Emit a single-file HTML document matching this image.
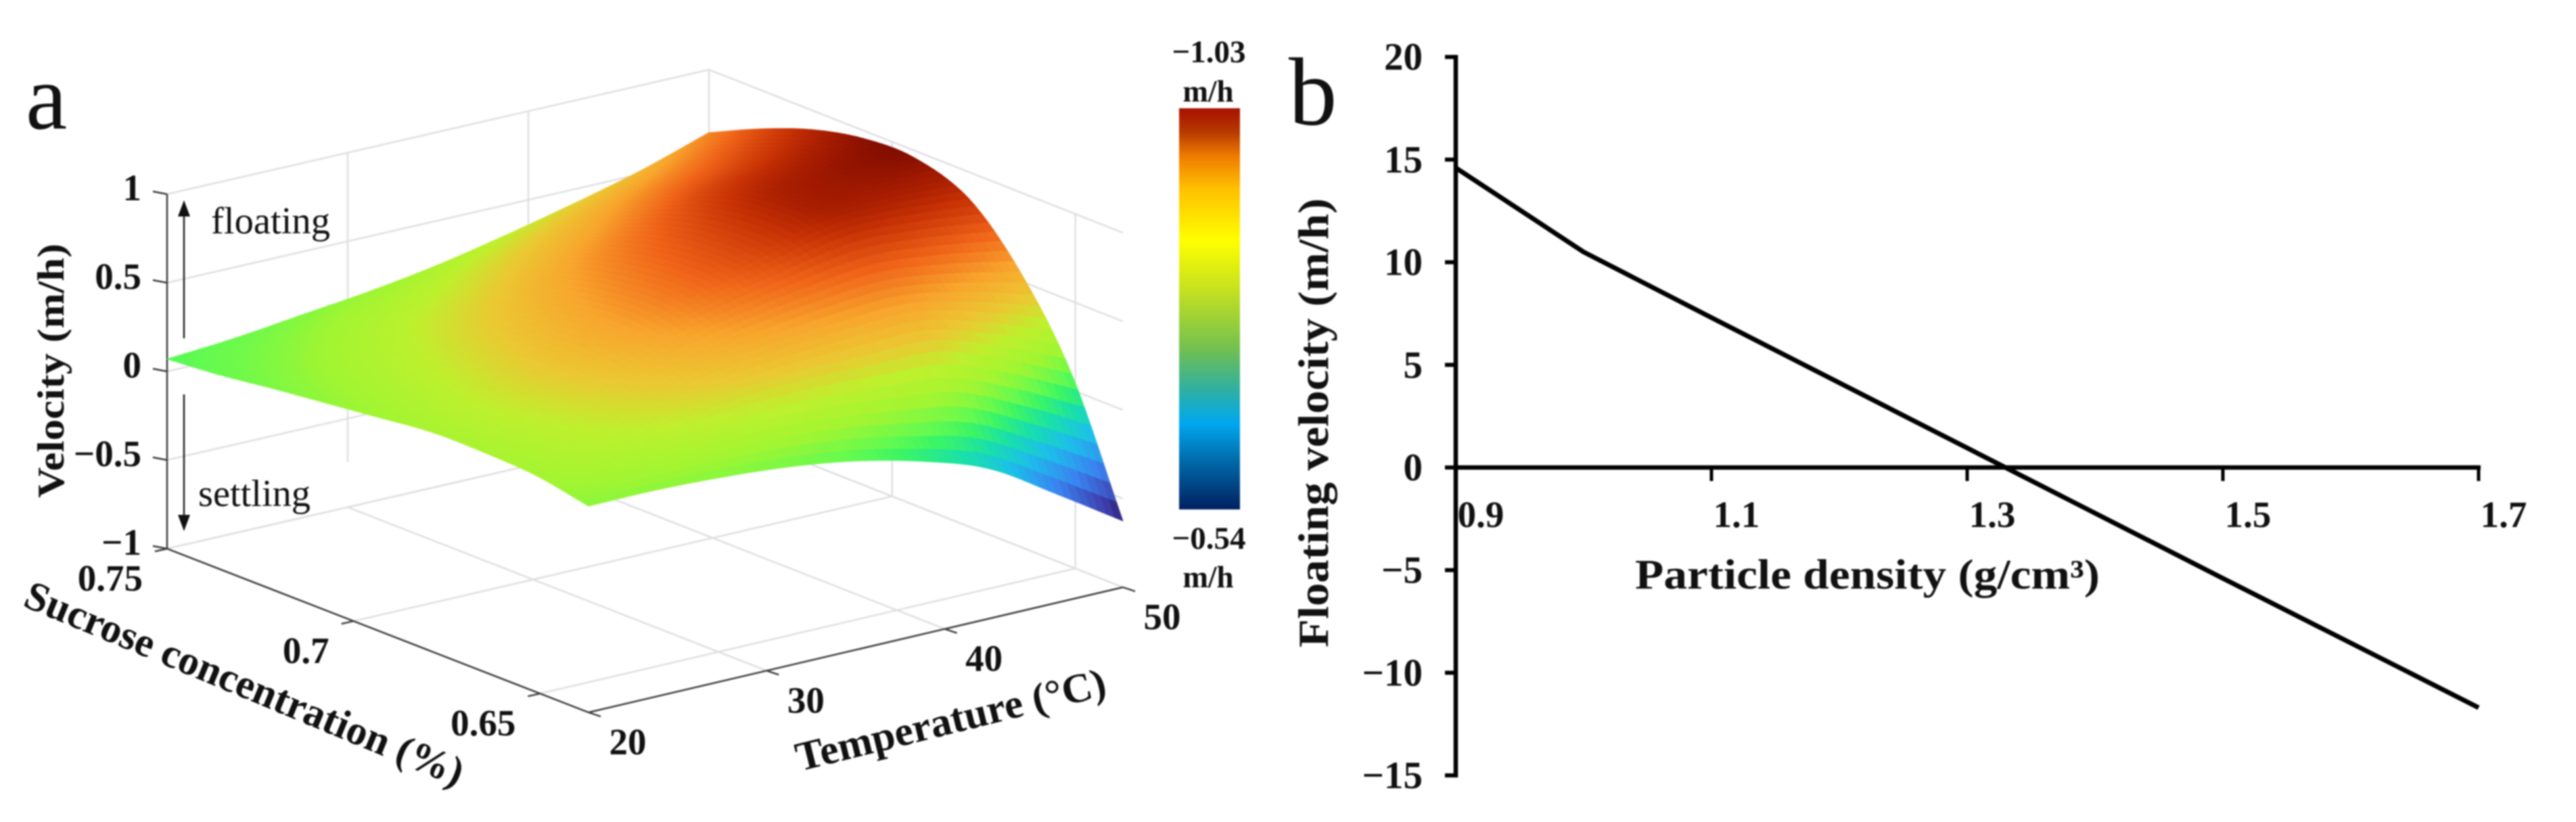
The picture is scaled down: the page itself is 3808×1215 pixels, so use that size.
<!DOCTYPE html>
<html lang="en">
<head>
<meta charset="utf-8">
<title>Velocity surface and floating velocity chart</title>
<style>
  html, body { margin: 0; padding: 0; background: #fff; }
  svg { display: block; filter: blur(1px); }
  text { font-family: "Liberation Serif", serif; fill: #111; }
  .b { font-weight: 700; }
</style>
</head>
<body>
<svg id="fig" xmlns="http://www.w3.org/2000/svg" width="3808" height="1215" viewBox="0 0 3808 1215">
  <defs>
    <linearGradient id="cbar" x1="0" y1="0" x2="0" y2="1">
      <stop offset="0" stop-color="#a81000"/>
      <stop offset="0.06" stop-color="#b83a00"/>
      <stop offset="0.118" stop-color="#ee7a00"/>
      <stop offset="0.2" stop-color="#ffc000"/>
      <stop offset="0.33" stop-color="#ffff00"/>
      <stop offset="0.456" stop-color="#c4e020"/>
      <stop offset="0.6" stop-color="#72c050"/>
      <stop offset="0.7" stop-color="#30b0a0"/>
      <stop offset="0.785" stop-color="#00a8f0"/>
      <stop offset="0.87" stop-color="#0070b0"/>
      <stop offset="1" stop-color="#002060"/>
    </linearGradient>
  </defs>
  <rect width="3808" height="1215" fill="#fff"/>

  <g id="grid3d"></g>
  <g id="axes3d"></g>
  <g id="surface"></g>
  <g id="labels3d"></g>

  <text x="38" y="190" font-size="138">a</text>
  <text x="1905" y="184" font-size="143">b</text>

  <text class="b" transform="translate(94 736) rotate(-90)" font-size="56" textLength="376" lengthAdjust="spacingAndGlyphs">Velocity (m/h)</text>
  <text class="b" transform="translate(32 895) rotate(22.6)" font-size="61" textLength="697" lengthAdjust="spacingAndGlyphs">Sucrose concentration (%)</text>
  <text class="b" transform="translate(1182 1140) rotate(-13.9)" font-size="61" textLength="470" lengthAdjust="spacingAndGlyphs">Temperature (°C)</text>

  <text x="312" y="345" font-size="56" textLength="176" lengthAdjust="spacingAndGlyphs">floating</text>
  <text x="293" y="748" font-size="56" textLength="166" lengthAdjust="spacingAndGlyphs">settling</text>
  <g>
    <line x1="272" y1="500" x2="272" y2="315" stroke="#222" stroke-width="2.5"/>
    <polygon points="272,296 263,320 281,320" fill="#111"/>
  </g>
  <g>
    <line x1="272" y1="583" x2="272" y2="765" stroke="#222" stroke-width="2.5"/>
    <polygon points="272,785 263,761 281,761" fill="#111"/>
  </g>

  <rect x="1743" y="160" width="90" height="593" fill="url(#cbar)"/>
  <text class="b" x="1787" y="92" font-size="47" text-anchor="middle">−1.03</text>
  <text class="b" x="1786" y="150" font-size="45" text-anchor="middle">m/h</text>
  <text class="b" x="1787" y="811" font-size="47" text-anchor="middle">−0.54</text>
  <text class="b" x="1786" y="868" font-size="45" text-anchor="middle">m/h</text>

  <g id="chartB"></g>
  <text class="b" transform="translate(1963 957) rotate(-90)" font-size="64" textLength="664" lengthAdjust="spacingAndGlyphs">Floating velocity (m/h)</text>
  <text class="b" x="2417" y="870" font-size="62" textLength="687" lengthAdjust="spacingAndGlyphs">Particle density (g/cm³)</text>
</svg>

<script>
// ---- Panel a data ----
const temperatureTicks = [20, 30, 40, 50];
const sucroseTicks = [0.75, 0.7, 0.65];
const velocityTicks = [1, 0.5, 0, -0.5, -1];
const surfaceTemperatures = [20, 23.75, 27.5, 31.25, 35, 38.75, 42.5, 46.25, 50];
const surfaceSucrose = [0.75, 0.736, 0.722, 0.708, 0.694, 0.679, 0.665, 0.651, 0.637];
const surfaceVelocityS0 = [0.07, 0.10, 0.145, 0.19, 0.25, 0.33, 0.42, 0.52, 0.645];
const surfaceVelocityS1 = [0.095, 0.158, 0.23, 0.296, 0.383, 0.477, 0.578, 0.672, 0.78];
const surfaceVelocityS2 = [0.134, 0.222, 0.315, 0.402, 0.504, 0.608, 0.717, 0.80, 0.89];
const surfaceVelocityS3 = [0.168, 0.28, 0.394, 0.501, 0.617, 0.727, 0.839, 0.90, 0.955];
const surfaceVelocityS4 = [0.202, 0.33, 0.454, 0.571, 0.688, 0.796, 0.903, 0.94, 0.96];
const surfaceVelocityS5 = [0.237, 0.366, 0.486, 0.60, 0.704, 0.794, 0.882, 0.88, 0.85];
const surfaceVelocityS6 = [0.237, 0.345, 0.442, 0.529, 0.60, 0.652, 0.68, 0.63, 0.55];
const surfaceVelocityS7 = [0.221, 0.289, 0.344, 0.388, 0.408, 0.402, 0.39, 0.26, 0.09];
const surfaceVelocityS8 = [0.164, 0.165, 0.15, 0.12, 0.065, -0.025, -0.155, -0.385, -0.626];

// ---- Panel b data ----
const particleDensity = [0.9, 1.0, 1.1, 1.3, 1.5, 1.7];
const floatingVelocity = [14.6, 10.5, 7.3, 0.95, -5.4, -11.7];
const densityTickLabels = ["0.9", "1.1", "1.3", "1.5", "1.7"];
const densityTicks = [0.9, 1.1, 1.3, 1.5, 1.7];
const velocityAxisTicks = [20, 15, 10, 5, 0, -5, -10, -15];

const NS = "http://www.w3.org/2000/svg";
function mk(parent, tag, attrs, txt) {
  const el = document.createElementNS(NS, tag);
  for (const k in attrs) el.setAttribute(k, attrs[k]);
  if (txt !== undefined) el.textContent = txt;
  parent.appendChild(el);
  return el;
}
function fmt(v) { return (v < 0 ? "−" + (-v) : String(v)); }

// ---- 3D axis functions ----
const cL = [247, 811], cB = [1048, 627], cF = [870, 1053], cR = [1660, 868];
const zUnit = 262;
const sMax = 0.75, sMin = 0.637, tMin = 20, tMax = 50;
function tFrac(T) { return (T - tMin) / (tMax - tMin); }
function sFrac(S) { return (sMax - S) / (sMax - sMin); }
function floorAt(t, s) {
  const x0 = cL[0] + (cB[0] - cL[0]) * t, y0 = cL[1] + (cB[1] - cL[1]) * t;
  const x1 = cF[0] + (cR[0] - cF[0]) * t, y1 = cF[1] + (cR[1] - cF[1]) * t;
  return [x0 + (x1 - x0) * s, y0 + (y1 - y0) * s];
}
function project(t, s, z) {
  const p = floorAt(t, s);
  return [p[0], p[1] - (z + 1) * zUnit];
}

// ---- Grid and axes ----
const gridG = document.getElementById("grid3d");
const axesG = document.getElementById("axes3d");
const labelsG = document.getElementById("labels3d");
const gridStyle = { stroke: "#dfdfe3", "stroke-width": 2.5, fill: "none" };
function gridLine(a, b) {
  const el = mk(gridG, "line", Object.assign({ x1: a[0], y1: a[1], x2: b[0], y2: b[1] }, gridStyle));
  
  
}
velocityTicks.forEach(function (v) {
  gridLine(project(0, 0, v), project(1, 0, v));
  gridLine(project(1, 0, v), project(1, 1, v));
});
temperatureTicks.forEach(function (T) {
  const t = tFrac(T);
  if (T > tMin) {
    const low = T === 30 ? [project(t, 0, 1)[0], 683] : project(t, 0, -1);
    gridLine(project(t, 0, 1), low);
  }
  gridLine(project(t, 0, -1), project(t, 1, -1));
});
sucroseTicks.forEach(function (S) {
  const s = sFrac(S);
  gridLine(project(0, s, -1), project(1, s, -1));
  if (s > 0) gridLine(project(1, s, -1), project(1, s, 1));
});

const axisStyle = { stroke: "#3c3c3c", "stroke-width": 2.5, fill: "none" };
function axisLine(a, b, name) {
  const el = mk(axesG, "line", Object.assign({ x1: a[0], y1: a[1], x2: b[0], y2: b[1] }, axisStyle));
  
  
}
axisLine(project(0, 0, -1), project(0, 0, 1), "velocity-axis-line");
axisLine(project(0, 0, -1), project(0, 1, -1), "sucrose-axis-line");
axisLine(project(0, 1, -1), project(1, 1, -1), "temperature-axis-line");

velocityTicks.forEach(function (v) {
  const p = project(0, 0, v);
  axisLine(p, [p[0] - 21, p[1] - 4], "velocity-tick");
  const lab = mk(labelsG, "text", { x: 209, y: p[1] + 9, "font-size": 55, "text-anchor": "end", "class": "b" }, fmt(v));
  
  
});
sucroseTicks.forEach(function (S) {
  const p = project(0, sFrac(S), -1);
  axisLine(p, [p[0] - 18, p[1] + 4], "sucrose-tick");
  const lab = mk(labelsG, "text", { x: p[0] - 36, y: p[1] + 62, "font-size": 55, "text-anchor": "end", "class": "b" }, String(S));
  
  
});
temperatureTicks.forEach(function (T) {
  const p = project(tFrac(T), 1, -1);
  axisLine(p, [p[0] + 18, p[1] + 6], "temperature-tick");
  const lab = mk(labelsG, "text", { x: p[0] + 58, y: p[1] + 62, "font-size": 55, "text-anchor": "middle", "class": "b" }, String(T));
  
  
});

// ---- Surface ----
const velocityRows = [surfaceVelocityS0, surfaceVelocityS1, surfaceVelocityS2, surfaceVelocityS3, surfaceVelocityS4, surfaceVelocityS5, surfaceVelocityS6, surfaceVelocityS7, surfaceVelocityS8];
const colorZ = [-0.62, -0.53, -0.36, -0.2, -0.07, 0.03, 0.09, 0.2, 0.33, 0.45, 0.58, 0.72, 0.85, 0.93, 0.98];
const colorR = [40, 62, 58, 28, 24, 60, 100, 160, 190, 235, 248, 240, 200, 160, 120];
const colorG = [24, 60, 130, 190, 224, 245, 250, 245, 240, 200, 165, 100, 50, 25, 10];
const colorB = [90, 170, 240, 235, 170, 100, 80, 50, 45, 50, 45, 25, 5, 0, 0];
function colorAt(z) {
  let i = 0;
  if (z <= colorZ[0]) i = 0;
  else if (z >= colorZ[colorZ.length - 1]) i = colorZ.length - 2;
  else while (z > colorZ[i + 1]) i++;
  const f = Math.max(0, Math.min(1, (z - colorZ[i]) / (colorZ[i + 1] - colorZ[i])));
  const c = function (a) { return Math.round(a[i] + (a[i + 1] - a[i]) * f); };
  return "rgb(" + c(colorR) + "," + c(colorG) + "," + c(colorB) + ")";
}
function cr(a, b, c, d, f) {
  return 0.5 * (2 * b + (c - a) * f + (2 * a - 5 * b + 4 * c - d) * f * f + (3 * b - a - 3 * c + d) * f * f * f);
}
function edge(arr, i) {
  const n = arr.length;
  if (i < 0) return 2 * arr[0] - arr[1];
  if (i >= n) return 2 * arr[n - 1] - arr[n - 2];
  return arr[i];
}
function sampleRow(row, u) {
  const n = row.length - 1;
  const i = Math.min(n - 1, Math.floor(u));
  return cr(edge(row, i - 1), edge(row, i), edge(row, i + 1), edge(row, i + 2), u - i);
}
function velocityAt(u, v) {
  const n = velocityRows.length - 1;
  const j = Math.min(n - 1, Math.floor(v));
  const vals = [j - 1, j, j + 1, j + 2].map(function (r) {
    if (r < 0) return 2 * sampleRow(velocityRows[0], u) - sampleRow(velocityRows[1], u);
    if (r > n) return 2 * sampleRow(velocityRows[n], u) - sampleRow(velocityRows[n - 1], u);
    return sampleRow(velocityRows[r], u);
  });
  return cr(vals[0], vals[1], vals[2], vals[3], v - j);
}
const surfaceG = document.getElementById("surface");
const SUB = 8;
const nT = (surfaceTemperatures.length - 1) * SUB, nS = (surfaceSucrose.length - 1) * SUB;
function nodeAt(a, b) {
  const u = a / SUB, v = b / SUB;
  const iu = Math.min(surfaceTemperatures.length - 2, Math.floor(u));
  const iv = Math.min(surfaceSucrose.length - 2, Math.floor(v));
  const T = surfaceTemperatures[iu] + (surfaceTemperatures[iu + 1] - surfaceTemperatures[iu]) * (u - iu);
  const S = surfaceSucrose[iv] + (surfaceSucrose[iv + 1] - surfaceSucrose[iv]) * (v - iv);
  const z = velocityAt(u, v);
  const p = project(tFrac(T), sFrac(S), z);
  return { x: p[0], y: p[1], z: z };
}
for (let b = 0; b < nS; b++) {
  for (let a = nT - 1; a >= 0; a--) {
    const n1 = nodeAt(a, b), n2 = nodeAt(a + 1, b), n3 = nodeAt(a + 1, b + 1), n4 = nodeAt(a, b + 1);
    const col = colorAt((n1.z + n2.z + n3.z + n4.z) / 4);
    const cell = mk(surfaceG, "polygon", {
      points: [n1, n2, n3, n4].map(function (n) { return n.x.toFixed(1) + "," + n.y.toFixed(1); }).join(" "),
      fill: col, stroke: col, "stroke-width": 0.9
    });
    
    
  }
}

// ---- Panel b axes ----
const chartB = document.getElementById("chartB");
function xScale(d) { return 2152 + (d - 0.9) * 1890; }
function yScale(v) { return 691 - v * 30.34; }

const yAxis = mk(chartB, "line", { x1: xScale(0.9), y1: yScale(20) - 3, x2: xScale(0.9), y2: yScale(-15) + 3, stroke: "#000", "stroke-width": 6.5 });


const xAxis = mk(chartB, "line", { x1: xScale(0.9), y1: yScale(0), x2: xScale(1.7) + 3, y2: yScale(0), stroke: "#000", "stroke-width": 6.5 });



velocityAxisTicks.forEach(function (v) {
  const t = mk(chartB, "line", { x1: xScale(0.9) - 16, y1: yScale(v), x2: xScale(0.9), y2: yScale(v), stroke: "#000", "stroke-width": 6 });
  
  
  const lab = mk(chartB, "text", { x: 2103, y: yScale(v) + 19, "font-size": 57, "text-anchor": "end", "class": "b" }, fmt(v));
  
  
});
densityTicks.forEach(function (d, i) {
  const t = mk(chartB, "line", { x1: xScale(d), y1: yScale(0), x2: xScale(d), y2: yScale(0) + 20, stroke: "#000", "stroke-width": 5 });
  
  
  const lab = mk(chartB, "text", { x: xScale(d) + 37, y: yScale(0) + 88, "font-size": 55, "text-anchor": "middle", "class": "b" }, densityTickLabels[i]);
  
  
});
const velocityLine = mk(chartB, "polyline", {
  points: particleDensity.map(function (d, i) { return xScale(d) + "," + yScale(floatingVelocity[i]); }).join(" "),
  fill: "none", stroke: "#000", "stroke-width": 7, "stroke-linejoin": "round"
});


</script>
</body>
</html>
